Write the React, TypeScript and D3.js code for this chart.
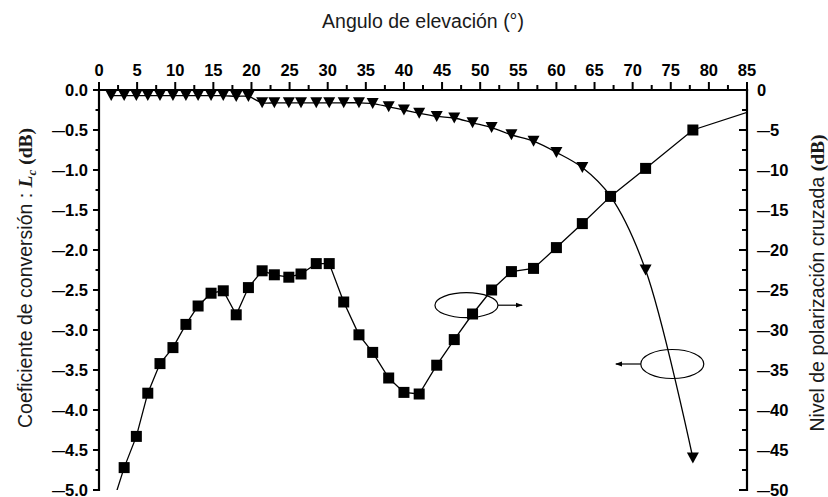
import React from "react";
import * as d3 from "d3";

// Elevation angles (degrees) shared by both measured series
const angles = [
  1.6, 3.3, 4.9, 6.4, 8.0, 9.7, 11.4, 13.0, 14.7, 16.3, 18.0, 19.6, 21.4, 23.0,
  24.9, 26.5, 28.5, 30.2, 32.1, 34.1, 35.9, 38.0, 40.0, 42.0, 44.3, 46.6, 49.0,
  51.5, 54.1, 57.0, 60.0, 63.4, 67.1, 71.7, 77.9,
];

// Conversion coefficient Lc (dB), left axis, triangles
const conversion = [
  -0.07, -0.07, -0.07, -0.07, -0.07, -0.07, -0.07, -0.07, -0.07, -0.07, -0.08,
  -0.08, -0.16, -0.16, -0.16, -0.16, -0.16, -0.16, -0.16, -0.16, -0.17, -0.21,
  -0.25, -0.29, -0.33, -0.35, -0.41, -0.47, -0.56, -0.64, -0.78, -0.97, -1.33,
  -2.25, -4.6,
];

// Cross-polarization level (dB), right axis, squares (the curve runs past both ends of the frame)
const crossAngles = [...angles, 89.5];
const crossLevel = [
  -52.3, -47.2, -43.3, -37.9, -34.2, -32.2, -29.3, -27.0, -25.4, -25.1, -28.1,
  -24.7, -22.6, -23.1, -23.4, -23.0, -21.7, -21.7, -26.5, -30.6, -32.8, -36.0,
  -37.8, -38.0, -34.4, -31.2, -28.0, -25.0, -22.7, -22.3, -19.7, -16.7, -13.3,
  -9.8, -5.0, -1.4,
];

// Axis domains
const xDomain = [0, 85];
const leftDomain = [-5, 0];
const rightDomain = [-50, 0];

const W = 828;
const H = 497;
const plot = { left: 99, right: 747, top: 90, bottom: 490 };

const sans = "'Liberation Sans', Arial, sans-serif";
const serif = "'Liberation Serif', 'Times New Roman', serif";

// Signed tick label: a long dash for the minus sign, then the digits
function SignedLabel(props: { s: string; x: number; y: number; anchor: string }) {
  const neg = props.s.startsWith("−") || props.s.startsWith("-");
  const body = neg ? props.s.slice(1) : props.s;
  return (
    <text x={props.x} y={props.y} textAnchor={props.anchor}>
      {neg && (
        <tspan fontSize={13} dy={-1}>
          —
        </tspan>
      )}
      <tspan dy={neg ? 1 : 0}>{body}</tspan>
    </text>
  );
}

export default function App() {
  const x = d3.scaleLinear().domain(xDomain).range([plot.left, plot.right]);
  const yL = d3.scaleLinear().domain(leftDomain).range([plot.bottom, plot.top]);
  const yR = d3.scaleLinear().domain(rightDomain).range([plot.bottom, plot.top]);

  const convPts = angles.map((a, i) => [a, conversion[i]] as [number, number]);
  const crossPts = crossAngles.map((a, i) => [a, crossLevel[i]] as [number, number]);

  const convLine = d3
    .line<[number, number]>()
    .x((d) => x(d[0]))
    .y((d) => yL(d[1]))
    .curve(d3.curveCatmullRom.alpha(0.5));
  const crossLine = d3
    .line<[number, number]>()
    .x((d) => x(d[0]))
    .y((d) => yR(d[1]));

  const inFrame = (a: number, v: number, dom: number[]) =>
    a >= xDomain[0] && a <= xDomain[1] && v >= dom[0] && v <= dom[1];

  const fmtL = d3.format(".1f");
  const fmtR = d3.format("d");

  const xMajor = d3.range(0, 85.001, 5);
  const xMinor = d3.range(2.5, 85, 5);
  const lMajor = d3.range(-5, 0.001, 0.5);
  const lMinor = d3.range(-4.75, 0, 0.5);
  const rMajor = d3.range(-50, 0.001, 5);
  const rMinor = d3.range(-47.5, 0, 5);

  const tri = "M-6,-5.5L6,-5.5L0,5.5Z";

  // Annotation ellipses that point each curve to its axis
  const ring1 = { a: 48.2, v: -26.9, to: 55.5 }; // right axis
  const ring2 = { a: 75.2, v: -3.425, to: 67.8 }; // left axis

  return (
    <svg
      width={W}
      height={H}
      style={{ position: "absolute", left: 0, top: 0, background: "#fff" }}
    >
      <defs>
        <clipPath id="frame">
          <rect
            x={plot.left}
            y={plot.top}
            width={plot.right - plot.left}
            height={plot.bottom - plot.top}
          />
        </clipPath>
        <marker
          id="head"
          viewBox="0 0 10 10"
          refX="9"
          refY="5"
          markerWidth="6"
          markerHeight="6"
          orient="auto"
        >
          <path d="M0,1.5L10,5L0,8.5Z" fill="#000" />
        </marker>
      </defs>

      {/* title */}
      <text
        x={423}
        y={28}
        textAnchor="middle"
        fontFamily={sans}
        fontSize={19.5}
        fill="#1a1a1a"
      >
        Angulo de elevación (°)
      </text>

      {/* data lines */}
      <g clipPath="url(#frame)" fill="none" stroke="#000" strokeWidth={1.3}>
        <path d={crossLine(crossPts) ?? ""} />
        <path d={convLine(convPts) ?? ""} />
      </g>

      {/* markers */}
      <g fill="#000">
        {crossPts
          .filter((d) => inFrame(d[0], d[1], rightDomain))
          .map((d, i) => (
            <rect key={"s" + i} x={x(d[0]) - 5.5} y={yR(d[1]) - 5.5} width={11} height={11} />
          ))}
        {convPts
          .filter((d) => inFrame(d[0], d[1], leftDomain))
          .map((d, i) => (
            <path key={"t" + i} d={tri} transform={`translate(${x(d[0])},${yL(d[1])})`} />
          ))}
      </g>

      {/* annotations */}
      <g fill="none" stroke="#000" strokeWidth={1.2}>
        <ellipse cx={x(ring1.a)} cy={yR(ring1.v)} rx={31.5} ry={12.5} />
        <line
          x1={x(ring1.a) + 31.5}
          y1={yR(ring1.v)}
          x2={x(ring1.to)}
          y2={yR(ring1.v)}
          markerEnd="url(#head)"
        />
        <ellipse cx={x(ring2.a)} cy={yL(ring2.v)} rx={31.5} ry={14.5} />
        <line
          x1={x(ring2.a) - 31.5}
          y1={yL(ring2.v)}
          x2={x(ring2.to)}
          y2={yL(ring2.v)}
          markerEnd="url(#head)"
        />
      </g>

      {/* axes */}
      <g stroke="#000" strokeWidth={2.2} fill="none" strokeLinecap="square">
        <line x1={plot.left} y1={plot.top} x2={plot.right} y2={plot.top} />
        <line x1={plot.left} y1={plot.top} x2={plot.left} y2={plot.bottom} />
        <line x1={plot.right} y1={plot.top} x2={plot.right} y2={plot.bottom} />
      </g>
      <g stroke="#000" strokeWidth={2}>
        {xMajor.map((t) => (
          <line key={"xm" + t} x1={x(t)} x2={x(t)} y1={plot.top} y2={plot.top - 8} />
        ))}
        {xMinor.map((t) => (
          <line key={"xn" + t} x1={x(t)} x2={x(t)} y1={plot.top} y2={plot.top - 5} />
        ))}
        {lMajor.map((t) => (
          <line key={"lm" + t} x1={plot.left} x2={plot.left - 6} y1={yL(t)} y2={yL(t)} />
        ))}
        {lMinor.map((t) => (
          <line key={"ln" + t} x1={plot.left} x2={plot.left - 3.5} y1={yL(t)} y2={yL(t)} />
        ))}
        {rMajor.map((t) => (
          <line key={"rm" + t} x1={plot.right} x2={plot.right - 8} y1={yR(t)} y2={yR(t)} />
        ))}
        {rMinor.map((t) => (
          <line key={"rn" + t} x1={plot.right} x2={plot.right - 5} y1={yR(t)} y2={yR(t)} />
        ))}
      </g>

      {/* tick labels */}
      <g fontFamily={sans} fontWeight="bold" fontSize={16.5} fill="#000">
        {xMajor.map((t) => (
          <text key={"xl" + t} x={x(t)} y={plot.top - 14} textAnchor="middle">
            {t}
          </text>
        ))}
        {lMajor.map((t) => (
          <SignedLabel
            key={"ll" + t}
            s={fmtL(t)}
            x={plot.left - 11}
            y={yL(t) + 5.5}
            anchor="end"
          />
        ))}
        {rMajor.map((t) => (
          <SignedLabel
            key={"rl" + t}
            s={fmtR(t)}
            x={plot.right + 10}
            y={yR(t) + 5.5}
            anchor="start"
          />
        ))}
      </g>

      {/* axis titles */}
      <text
        transform="translate(32,278) rotate(-90)"
        textAnchor="middle"
        fontSize={19.5}
        fill="#1a1a1a"
      >
        <tspan fontFamily={sans}>Coeficiente de conversión : </tspan>
        <tspan fontFamily={serif} fontWeight="bold" fontStyle="italic">
          L
        </tspan>
        <tspan fontFamily={serif} fontWeight="bold" fontStyle="italic" fontSize={13} dy={4}>
          c
        </tspan>
        <tspan fontFamily={serif} fontWeight="bold" dy={-4}>
          {" (dB)"}
        </tspan>
      </text>
      <text
        transform="translate(824,283) rotate(-90)"
        textAnchor="middle"
        fontSize={19.5}
        fill="#1a1a1a"
      >
        <tspan fontFamily={sans}>Nivel de polarización cruzada </tspan>
        <tspan fontFamily={serif} fontWeight="bold">
          (dB)
        </tspan>
      </text>
    </svg>
  );
}
